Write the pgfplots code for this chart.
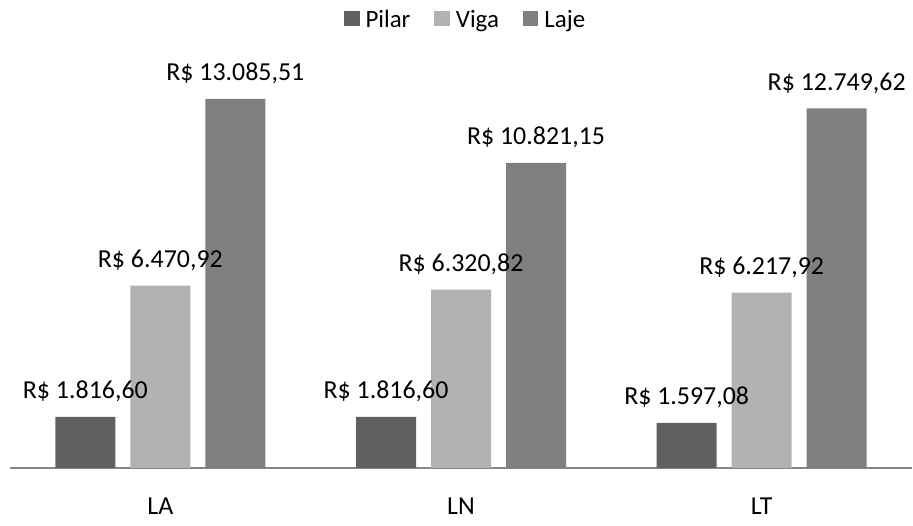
\documentclass[border=0pt]{standalone}
\usepackage{pgfplots}
\pgfplotsset{compat=1.18}
\usepackage{fontspec}
\setmainfont{Carlito}

\definecolor{pilar}{HTML}{606060}
\definecolor{viga}{HTML}{B2B2B2}
\definecolor{laje}{HTML}{808080}
\definecolor{axisgray}{HTML}{868686}

\pgfplotsset{/pgf/number format/assume math mode=true}

\pgfplotstableread{
x y
0 1816.60
1 1816.60
2 1597.08
}\pilartab
\pgfplotstableread{
x y
0 6470.92
1 6320.82
2 6217.92
}\vigatab
\pgfplotstableread{
x y
0 13085.51
1 10821.15
2 12749.62
}\lajetab

\begin{document}
\begin{tikzpicture}[x=1bp,y=1bp]
\path[use as bounding box] (-10,-58) rectangle (903,468);
\begin{axis}[
  at={(0,0)}, anchor=south west,
  scale only axis, width=902bp, height=394.8bp,
  xmin=-0.5, xmax=2.5, ymin=0, ymax=14000,
  ybar=15bp, bar width=60bp,
  axis x line*=bottom, axis y line=none,
  x axis line style={draw=axisgray, line width=1.5bp, -},
  xtick={0,1,2}, xticklabels={LA,LN,LT},
  major x tick style={draw=none},
  xticklabel style={anchor=base, yshift=-42bp, font=\fontsize{26}{30}\selectfont},
  ytick=\empty,
  nodes near coords={R\$ \pgfmathprintnumber[fixed, fixed zerofill, precision=2, use comma]{\pgfplotspointmeta}},
  every node near coord/.append style={font=\fontsize{26}{30}\selectfont, text=black, anchor=base, yshift=18bp},
  legend columns=3,
  legend style={at={(0.504,1)}, anchor=center, yshift=54bp, draw=none,
    font=\fontsize{25}{30}\selectfont,
    nodes={inner sep=0pt},
    /tikz/every odd column/.append style={column sep=6bp},
    /tikz/every even column/.append style={column sep=24bp}},
  legend image code/.code={\fill[#1] (0bp,-7bp) rectangle (15.5bp,8.5bp);},
]
\addplot[fill=pilar, draw=none] table[x=x,y=y] {\pilartab};
\addplot[fill=viga, draw=none] table[x=x,y=y] {\vigatab};
\addplot[fill=laje, draw=none] table[x=x,y=y] {\lajetab};
\legend{Pilar,Viga,Laje}
\end{axis}
\end{tikzpicture}
\end{document}
